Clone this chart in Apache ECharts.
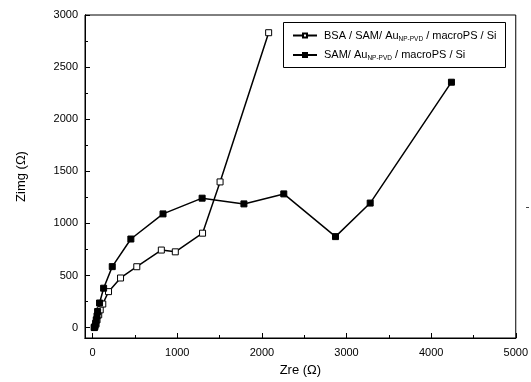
<!DOCTYPE html>
<html>
<head>
<meta charset="utf-8">
<script src="https://cdn.jsdelivr.net/npm/echarts@6/dist/echarts.min.js"></script>
<style>html,body{margin:0;padding:0;background:#fff}#c{width:531px;height:382px}</style>
</head>
<body>
<div id="c"></div>
<script>
var seriesNames = ['BSA / SAM/ Au{sub|NP-PVD} / macroPS / Si', 'SAM/ Au{sub|NP-PVD} / macroPS / Si'];
var bsaZre  = [20, 40, 52, 72, 90, 120, 188, 330, 522, 812, 977, 1299, 1506, 2080];
var bsaZimg = [3, 33, 74, 122, 170, 226, 345, 476, 584, 744, 727, 906, 1398, 2830];
var samZre  = [20, 28, 36, 43, 52, 59, 82, 130, 232, 452, 832, 1294, 1788, 2259, 2870, 3280, 4240];
var samZimg = [0, 10, 42, 74, 112, 154, 236, 378, 585, 850, 1091, 1242, 1187, 1283, 873, 1195, 2355];
var xMajor = [0, 1000, 2000, 3000, 4000, 5000];
var xMinor = [500, 1500, 2500, 3500, 4500];
var yMajor = [0, 500, 1000, 1500, 2000, 2500, 3000];
var yMinor = [250, 750, 1250, 1750, 2250, 2750];

function pairs(a, b) { return a.map(function (v, i) { return [v, b[i]]; }); }
function plain(v) { return String(v); }
var font = 'Liberation Sans, Arial, sans-serif';
var chart = echarts.init(document.getElementById('c'));
var axBase = {
  axisLine: { show: true, onZero: false, lineStyle: { color: '#000', width: 1 } },
  splitLine: { show: false }
};
chart.setOption({
  animation: false,
  backgroundColor: '#fff',
  grid: { left: 85, top: 15, right: 13, bottom: 44, show: true, borderColor: '#000', borderWidth: 1, backgroundColor: 'transparent' },
  xAxis: [
    Object.assign({}, axBase, {
      type: 'value', min: -90, max: 5000, position: 'bottom',
      name: 'Zre (Ω)', nameLocation: 'middle', nameGap: 26,
      nameTextStyle: { fontFamily: font, fontSize: 13, color: '#000' },
      axisTick: { show: true, inside: true, length: 5, customValues: xMajor, lineStyle: { color: '#000' } },
      axisLabel: { show: true, customValues: xMajor, margin: 9, fontFamily: font, fontSize: 11, color: '#000', formatter: plain }
    }),
    Object.assign({}, axBase, {
      type: 'value', min: -90, max: 5000, position: 'bottom',
      axisTick: { show: true, inside: true, length: 3, customValues: xMinor, lineStyle: { color: '#000' } },
      axisLabel: { show: false }
    })
  ],
  yAxis: [
    Object.assign({}, axBase, {
      type: 'value', min: -100, max: 3000, position: 'left',
      name: 'Zimg (Ω)', nameLocation: 'middle', nameGap: 57, nameRotate: 90,
      nameTextStyle: { fontFamily: font, fontSize: 13, color: '#000' },
      axisTick: { show: true, inside: true, length: 5, customValues: yMajor, lineStyle: { color: '#000' } },
      axisLabel: { show: true, customValues: yMajor, margin: 7, fontFamily: font, fontSize: 11, color: '#000', formatter: plain }
    }),
    Object.assign({}, axBase, {
      type: 'value', min: -100, max: 3000, position: 'left',
      axisTick: { show: true, inside: true, length: 3, customValues: yMinor, lineStyle: { color: '#000' } },
      axisLabel: { show: false }
    })
  ],
  legend: {
    left: 287, top: 27, orient: 'vertical', itemGap: 7, itemWidth: 24, itemHeight: 5, padding: [3, 5],
    data: seriesNames,
    formatter: function (n) { return n; },
    textStyle: {
      fontFamily: font, fontSize: 11, color: '#000', padding: [0, 0, 0, 2],
      rich: { sub: { fontFamily: font, fontSize: 6.5, color: '#000', verticalAlign: 'bottom', padding: [7, 0, 0, 0] } }
    }
  },
  graphic: [
    { type: 'rect', shape: { x: 283.5, y: 22.5, width: 222, height: 45 }, style: { fill: '#fff', stroke: '#000', lineWidth: 1 }, z: 1 },
    { type: 'line', shape: { x1: 526, y1: 207.5, x2: 529, y2: 207.5 }, style: { stroke: '#444', lineWidth: 1 } }
  ],
  series: [
    {
      name: seriesNames[0], type: 'line', data: pairs(bsaZre, bsaZimg),
      symbol: 'rect', symbolSize: 6, showAllSymbol: true, z: 3,
      lineStyle: { color: '#000', width: 1.5 },
      itemStyle: { color: '#fff', borderColor: '#000', borderWidth: 1 }
    },
    {
      name: seriesNames[1], type: 'line', data: pairs(samZre, samZimg),
      symbol: 'rect', symbolSize: 6, showAllSymbol: true, z: 3,
      lineStyle: { color: '#000', width: 1.5 },
      itemStyle: { color: '#000', borderColor: '#000', borderWidth: 1 }
    }
  ]
});
</script>
</body>
</html>
